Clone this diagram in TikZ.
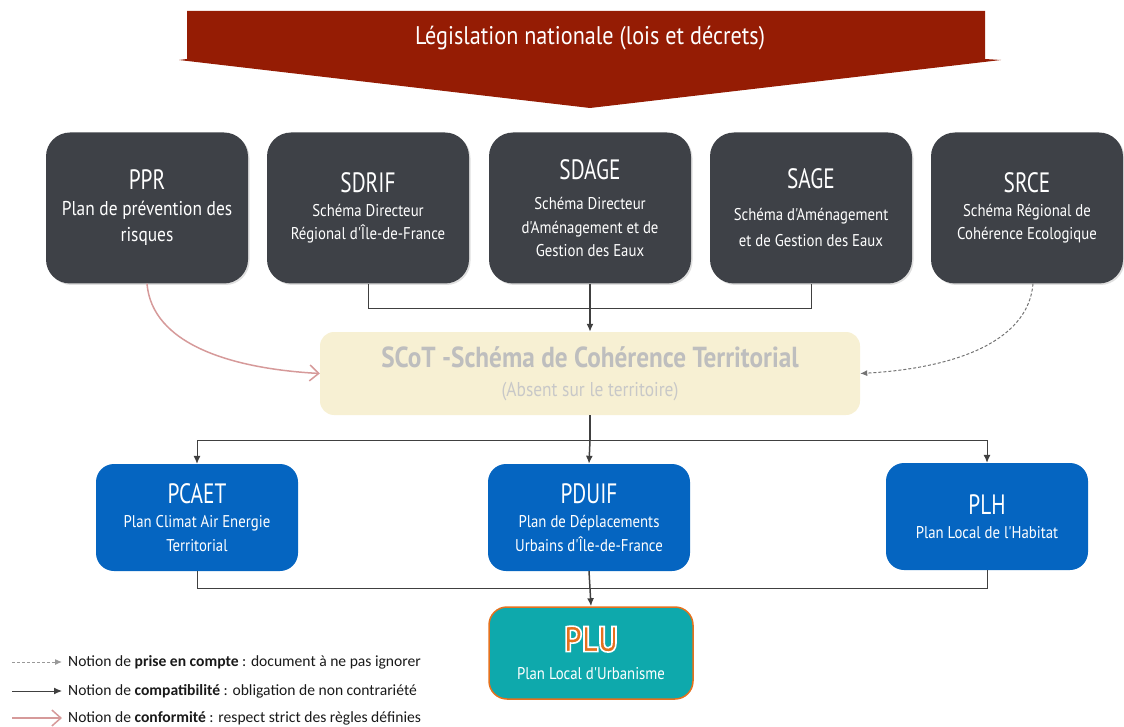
\documentclass[tikz,border=0pt]{standalone}
\usepackage{fontspec}
\setmainfont{Carlito}
\newfontfamily\leadfont{PT Sans}[FakeStretch=0.76]
\newfontfamily\condfont{PT Sans}[FakeStretch=0.87]
\usetikzlibrary{arrows.meta,shadows,positioning}

\definecolor{legisred}{RGB}{149,28,4}
\definecolor{boxgrey}{RGB}{62,65,71}
\definecolor{scotfill}{RGB}{247,240,211}
\definecolor{scottext}{RGB}{190,190,190}
\definecolor{planblue}{RGB}{5,101,193}
\definecolor{plufill}{RGB}{14,169,172}
\definecolor{pluorange}{RGB}{229,113,29}
\definecolor{conformpink}{RGB}{214,154,154}
\definecolor{linkgrey}{RGB}{64,64,64}

\begin{document}
\begin{tikzpicture}[x=1pt,y=-1pt,
	darkbox/.style={fill=boxgrey, rounded corners=24pt, minimum width=202pt, minimum height=151pt, inner sep=0pt, text=white, align=center, font=\condfont\fontsize{17}{23.5}\selectfont, drop shadow={opacity=0.25, shadow xshift=1.5pt, shadow yshift=-1.5pt}},
	bluebox/.style={fill=planblue, rounded corners=18pt, minimum width=202pt, minimum height=107pt, inner sep=0pt, text=white, align=center, font=\condfont\fontsize{17}{23.5}\selectfont},
	link/.style={draw=linkgrey, line width=1pt},
	compat/.style={link, -{Latex[length=8pt,width=7pt]}},
	consider/.style={draw=black!55, line width=1pt, dash pattern=on 3pt off 2pt, -{Latex[length=7pt,width=6pt]}},
	conform/.style={draw=conformpink, line width=1.5pt, -{Straight Barb[length=9pt,width=16pt]}},
	legend/.style={anchor=west, inner sep=0pt, font=\fontsize{15.6}{18}\selectfont, text=black!90}]
	\newcommand\Lead[1]{{\leadfont\fontsize{28}{30}\selectfont #1}}
	\newcommand\Sub[1]{{\condfont\fontsize{17}{20}\selectfont #1}}
	\newcommand\Wide[1]{{\condfont\fontsize{20}{24}\selectfont #1}}

	\useasboundingbox (0,0) rectangle (1124,727);

	\fill[legisred] (187,11) -- (985,11) -- (985,59) -- (1001,60) -- (590,108) -- (179,60) -- (187,59) -- cycle;
	\node[text=white, font=\condfont\fontsize{25.5}{28}\selectfont] (legis) at (590,38.5) {Législation nationale (lois et décrets)};

	\node[darkbox, font=\condfont\fontsize{20}{26}\selectfont] (ppr) at (147,208) {\Lead{PPR}\\[0pt] \Wide{Plan de prévention des}\\ \Wide{risques}};
	\node[darkbox] (sdrif) at (368,208) {\Lead{SDRIF}\\[0pt] \Sub{Schéma Directeur}\\ \Sub{Régional d'Île-de-France}};
	\node[darkbox] (sdage) at (590,208) {\Lead{SDAGE}\\[7pt] \Sub{Schéma Directeur}\\ \Sub{d'Aménagement et de}\\ \Sub{Gestion des Eaux}};
	\node[darkbox, font=\condfont\fontsize{17}{26}\selectfont] (sage) at (811,208) {\Lead{SAGE}\\[6pt] \Sub{Schéma d'Aménagement}\\ \Sub{et de Gestion des Eaux}};
	\node[darkbox, minimum width=192pt] (srce) at (1027,208) {\Lead{SRCE}\\[0pt] \Sub{Schéma Régional de}\\ \Sub{Cohérence Ecologique}};

	\node[fill=scotfill, rounded corners=14pt, minimum width=540pt, minimum height=83pt, inner sep=0pt, align=center, font=\condfont\fontsize{20}{30}\selectfont] (scot) at (590,373.5)
		{\textcolor{scottext}{\fontsize{29}{30}\selectfont\bfseries SCoT -Schéma de Cohérence Territorial}\\[-1pt]
		 \textcolor{scottext!85}{\fontsize{20}{22}\selectfont (Absent sur le territoire)}};

	\node[bluebox] (pcaet) at (197,517.5) {\Lead{PCAET}\\[0.5pt] \Sub{Plan Climat Air Energie}\\ \Sub{Territorial}};
	\node[bluebox] (pduif) at (589,517.5) {\Lead{PDUIF}\\[0.5pt] \Sub{Plan de Déplacements}\\ \Sub{Urbains d'Île-de-France}};
	\node[bluebox] (plh) at (987,516.5) {\Lead{PLH}\\[0pt] \Sub{Plan Local de l'Habitat}};

	\node[fill=plufill, draw=pluorange, line width=1.5pt, rounded corners=18pt, minimum width=204pt, minimum height=92pt, inner sep=0pt, align=center, font=\condfont\fontsize{17}{28}\selectfont] (plu) at (591,653)
		{{\color{pluorange}\fontsize{36}{38}\selectfont\bfseries\special{pdf:literal direct 2 Tr 1.6 w 1 1 1 RG}PLU\special{pdf:literal direct 0 Tr}}\\
		 \textcolor{white}{\Sub{Plan Local d'Urbanisme}}};

	\draw[link] (sdrif.south) -- ++(0,25) -| (sage.south);
	\draw[compat, line width=1.5pt] (sdage.south) -- (scot.north);
	\draw[conform] (ppr.south) .. controls +(5,60) and +(-90,-5) .. (scot.west);
	\draw[consider] ([xshift=6pt]srce.south) .. controls +(-5,60) and +(90,-5) .. (scot.east);

	\draw[link, line width=1.5pt] (scot.south) -- ++(0,25) coordinate (split);
	\draw[compat] (split) -| (pcaet.north);
	\draw[compat] (split) -| (plh.north);
	\draw[compat, line width=1.5pt] (split) -- (pduif.north);

	\draw[link] (pcaet.south) -- ++(0,17) -| (plh.south);
	\draw[compat, line width=1.5pt] (pduif.south) -- (plu.north);

	\coordinate (keya) at (12,662);
	\coordinate (keyb) at (62,662);
	\coordinate (keyc) at (12,691);
	\coordinate (keyd) at (62,691);
	\coordinate (keye) at (12,718);
	\coordinate (keyf) at (62,718);
	\draw[consider, draw=black!40] (keya) -- (keyb);
	\draw[compat] (keyc) -- (keyd);
	\draw[conform] (keye) -- (keyf);
	\node[legend, right=6pt of keyb] (key1) {Notion de \textbf{prise en compte} : document à ne pas ignorer};
	\node[legend, right=6pt of keyd] (key2) {Notion de \textbf{compatibilité} : obligation de non contrariété};
	\node[legend, right=6pt of keyf] (key3) {Notion de \textbf{conformité} : respect strict des règles définies};
\end{tikzpicture}
\end{document}
